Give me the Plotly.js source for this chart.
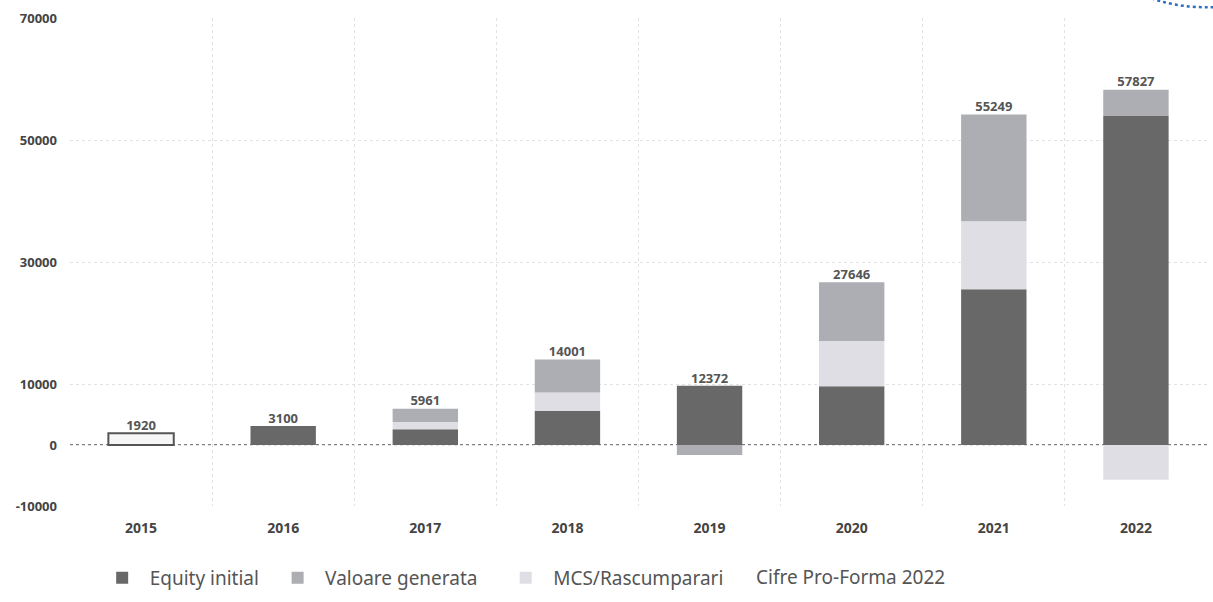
<!DOCTYPE html>
<html>
<head>
<meta charset="utf-8">
<script src="https://cdn.plot.ly/plotly-3.0.1.min.js"></script>
<style>
  html, body { margin: 0; padding: 0; background: #fff; }
  #chart { width: 1213px; height: 602px; }
</style>
</head>
<body>
<div id="chart"></div>
<script>
// ---- data ----
const years = ['2015', '2016', '2017', '2018', '2019', '2020', '2021', '2022'];
const equityInitial = [1920, 3100, 2600, 5600, 9700, 9650, 25550, 54000];
const mcsRascumparari = [0, 0, 1160, 3000, 0, 7400, 11130, -5680];
const valoareGenerata = [0, 0, 2201, 5401, -1650, 9650, 17490, 4250];
const totalLabels = ['1920', '3100', '5961', '14001', '12372', '27646', '55249', '57827'];
const yTickVals = [-10000, 0, 10000, 30000, 50000, 70000];
const yTickText = ['-10000', '0', '10000', '30000', '50000', '70000'];
const equity2022Note = '61006';

// top of the positive stack for each year (for label placement)
const stackTops = years.map((_, i) =>
  [equityInitial[i], mcsRascumparari[i], valoareGenerata[i]]
    .filter(v => v > 0).reduce((a, b) => a + b, 0));

const cEquity = '#686868';
const cValoare = '#adadb4';
const cMcs = '#dedee4';
const fontFam = '"Noto Sans", "Open Sans", sans-serif';

const traces = [
  {
    type: 'bar', name: 'Equity initial', x: years, y: equityInitial,
    showlegend: false,
    marker: {
      color: years.map((y, i) => i === 0 ? '#f6f6f6' : cEquity),
      line: { color: '#555', width: years.map((y, i) => i === 0 ? 2 : 0) }
    },
    hoverinfo: 'x+y'
  },
  {
    type: 'bar', name: 'MCS/Rascumparari', x: years, y: mcsRascumparari,
    legend: 'legend3',
    marker: { color: cMcs, line: { width: 0 } },
    hoverinfo: 'x+y'
  },
  {
    type: 'bar', name: 'Valoare generata', x: years, y: valoareGenerata,
    legend: 'legend2',
    marker: { color: cValoare, line: { width: 0 } },
    hoverinfo: 'x+y'
  },
  // legend entry for Equity initial (no marks of its own)
  {
    type: 'bar', name: 'Equity initial', x: [null], y: [null],
    legend: 'legend',
    marker: { color: cEquity, line: { width: 0 } },
    hoverinfo: 'skip'
  },
  {
    type: 'scatter', mode: 'text', x: years, y: stackTops, text: totalLabels,
    textposition: 'top center', showlegend: false, hoverinfo: 'skip',
    textfont: { family: fontFam, size: 13, color: '#555', weight: 700 },
    cliponaxis: false
  }
];

const legendBase = {
  orientation: 'h', xanchor: 'left', y: -0.145, yanchor: 'middle',
  font: { family: fontFam, size: 19, color: '#555' },
  itemclick: false, itemdoubleclick: false, itemwidth: 45,
  bgcolor: 'rgba(0,0,0,0)'
};

const layout = {
  width: 1213, height: 602,
  paper_bgcolor: '#fff', plot_bgcolor: '#fff',
  margin: { l: 70, r: 6, t: 18, b: 95 },
  barmode: 'relative',
  bargap: 0.54,
  font: { family: fontFam, color: '#444' },
  xaxis: {
    type: 'category',
    range: [-0.5, 7.5],
    tickson: 'boundaries',
    showgrid: true, gridcolor: '#e2e2e2', griddash: 'dot', gridwidth: 1,
    showline: false, zeroline: false, ticks: '',
    ticklabelstandoff: 12,
    tickfont: { family: fontFam, size: 14, color: '#444', weight: 700 },
    fixedrange: true
  },
  yaxis: {
    range: [-10000, 70000],
    tickvals: yTickVals, ticktext: yTickText,
    showgrid: true, gridcolor: '#e2e2e2', griddash: 'dot', gridwidth: 1,
    zeroline: false, showline: false, ticks: '',
    ticklabelstandoff: 12,
    tickfont: { family: fontFam, size: 13, color: '#444', weight: 700 },
    fixedrange: true
  },
  showlegend: true,
  legend: Object.assign({}, legendBase, { x: 0.0217 }),
  legend2: Object.assign({}, legendBase, { x: 0.176 }),
  legend3: Object.assign({}, legendBase, { x: 0.3766 }),
  shapes: [
    { type: 'line', xref: 'paper', x0: 0, x1: 1, yref: 'y', y0: 0, y1: 0,
      line: { color: '#555', width: 1.5, dash: 'dot' }, layer: 'below' },
    { type: 'circle', xref: 'paper', yref: 'paper',
      x0: 0.92, x1: 1.08, y0: 1.022, y1: 1.2,
      line: { color: '#2f6fc4', width: 2.5, dash: 'dot' }, layer: 'above' }
  ],
  annotations: [
    { text: 'Cifre Pro-Forma 2022', xref: 'paper', yref: 'paper',
      x: 0.602, y: -0.145, xanchor: 'left', yanchor: 'middle', showarrow: false,
      font: { family: fontFam, size: 19, color: '#555' } },
    { text: equity2022Note, xref: 'x', yref: 'y', x: '2022', y: 6000,
      xshift: -48, textangle: -90, showarrow: false,
      font: { family: fontFam, size: 10, color: '#555', weight: 700 } }
  ]
};

Plotly.newPlot('chart', traces, layout, { displayModeBar: false, staticPlot: true });
</script>
</body>
</html>
